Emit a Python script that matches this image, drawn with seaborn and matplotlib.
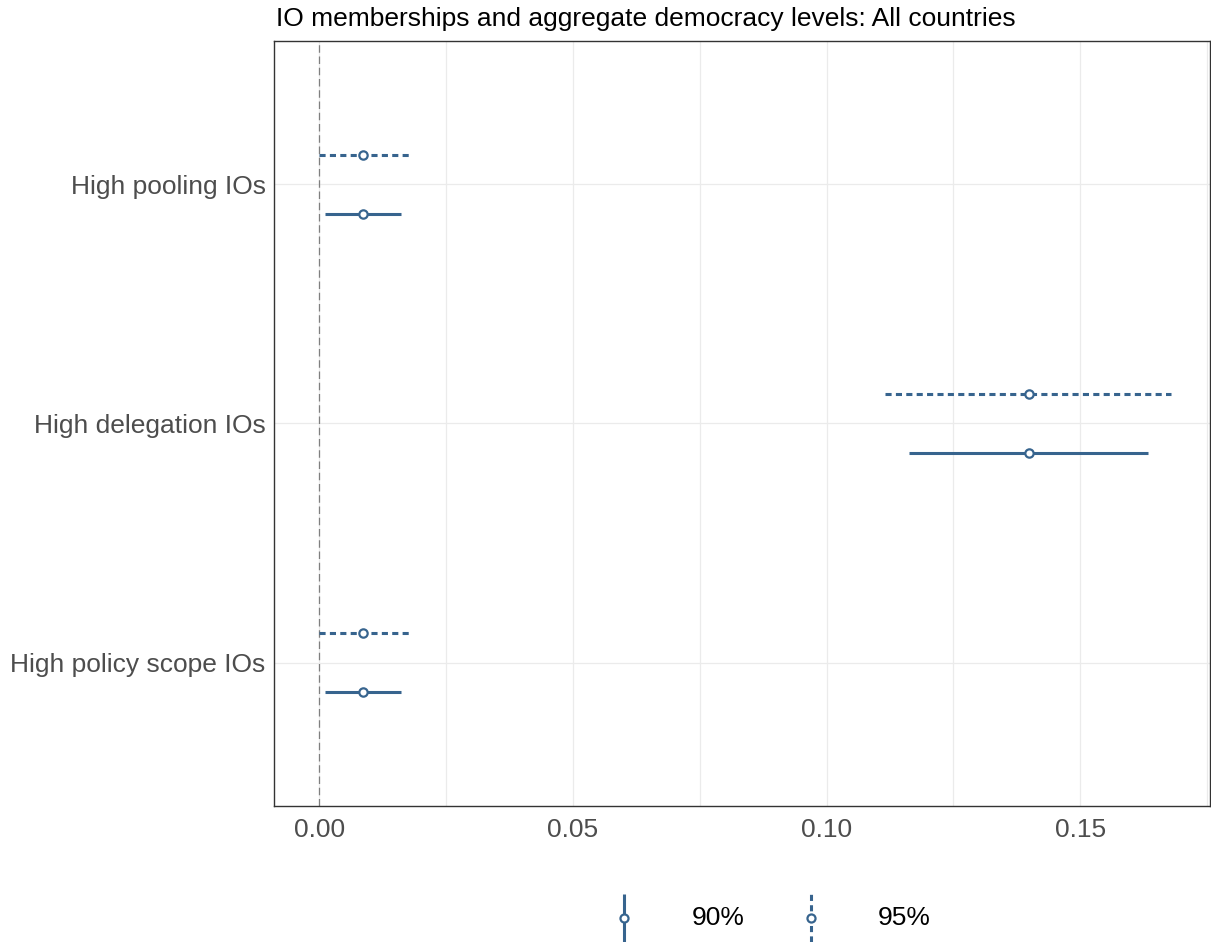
import numpy as np
import pandas as pd
import matplotlib
matplotlib.use("Agg")
import matplotlib.pyplot as plt
import seaborn as sns

# Estimates with 90% and 95% confidence intervals
terms = ["High pooling IOs", "High delegation IOs", "High policy scope IOs"]
estimate = [0.0087, 0.1400, 0.0087]
lo90 = [0.0012, 0.1163, 0.0012]
hi90 = [0.0162, 0.1634, 0.0162]
lo95 = [-0.0001, 0.1116, -0.0001]
hi95 = [0.0177, 0.1679, 0.0177]
x_ticks = [0.00, 0.05, 0.10, 0.15]
x_tick_labels = ["0.00", "0.05", "0.10", "0.15"]
levels = ["90%", "95%"]

BLUE = "#37648e"

sns.set_theme(style="white")
plt.rcParams["font.family"] = ["Liberation Sans", "DejaVu Sans"]

rows = []
for i, t in enumerate(terms):
    rows.append(dict(term=t, pos=i, level="95%", est=estimate[i], lo=lo95[i], hi=hi95[i]))
    rows.append(dict(term=t, pos=i, level="90%", est=estimate[i], lo=lo90[i], hi=hi90[i]))
df = pd.DataFrame(rows)
offset = {"95%": -0.125, "90%": 0.125}
df["y"] = df["pos"] + df["level"].map(offset)

fig = plt.figure(figsize=(12.11, 9.42), dpi=100)
ax = fig.add_axes([0.2263, 0.1444, 0.7729, 0.8121])

# grid
for v in [0.0, 0.025, 0.05, 0.075, 0.10, 0.125, 0.15, 0.175]:
    ax.axvline(v, color="#ebebeb", lw=0.9, zorder=0)
for i in range(len(terms)):
    ax.axhline(i, color="#ebebeb", lw=0.9, zorder=0)

ax.axvline(0, color="#7f7f7f", lw=0.9, ls=(0, (6, 3)), zorder=1)

styles = {"90%": "-", "95%": (0, (2.0, 1.4))}
for lvl in levels:
    sub = df[df["level"] == lvl]
    ax.hlines(sub["y"], sub["lo"], sub["hi"], color=BLUE, lw=2.2,
              linestyles=[styles[lvl]] * len(sub), zorder=2)

sns.scatterplot(data=df, x="est", y="y", ax=ax, marker="o", s=36,
                facecolor="white", edgecolor=BLUE, linewidth=1.6,
                legend=False, zorder=3)

ax.set_xlim(-0.0089, 0.1756)
ax.set_ylim(2.6, -0.6)
ax.set_xticks(x_ticks)
ax.set_xticklabels(x_tick_labels)
ax.set_yticks(range(len(terms)))
ax.set_yticklabels(terms)
ax.tick_params(axis="both", length=0, labelsize=19, labelcolor="#4d4d4d", pad=6)
ax.tick_params(axis="x", pad=9)
ax.set_xlabel("")
ax.set_ylabel("")
for s in ax.spines.values():
    s.set_color("#333333")
    s.set_linewidth(1.0)

fig.text(0.2279, 0.9795, "IO memberships and aggregate democracy levels: All countries",
         fontsize=19, color="black", ha="left", va="center")

# legend drawn with vertical interval keys
lg = fig.add_axes([0, 0, 1, 0.07])
lg.set_xlim(0, 1211)
lg.set_ylim(0, 66)
lg.axis("off")
key_x = [624, 811]
label_x = [692, 878]
for lvl, kx, lx in zip(levels, key_x, label_x):
    lg.plot([kx, kx], [0, 48], color=BLUE, lw=2.2, ls=styles[lvl],
            solid_capstyle="butt", dash_capstyle="butt")
    lg.plot([kx], [24], marker="o", ms=5.8, mfc="white", mec=BLUE, mew=1.6)
    lg.text(lx, 24, lvl, fontsize=19, color="black", ha="left", va="center")

fig.savefig("out.png", dpi=100)
